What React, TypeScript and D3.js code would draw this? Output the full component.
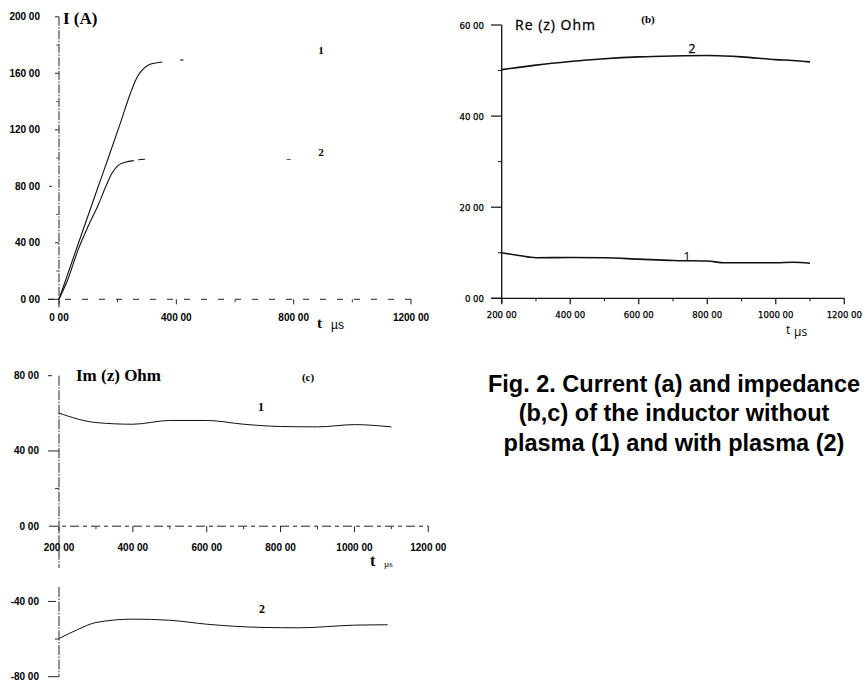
import React from 'react';
import * as d3 from 'd3';

// Panel (a): current vs time
const tA1 = [0, 60, 134, 168, 208, 242, 262, 280, 305, 330, 352];
const iA1 = [0, 36, 80, 100, 124, 145, 155.5, 161.5, 165.9, 167.3, 168];
const tA1Tail = [413, 424];
const iA1Tail = [169.4, 169.4];
const tA2 = [0, 30, 65, 100, 134, 160, 180, 200, 225, 255];
const iA2 = [0, 14, 35, 52, 67, 80, 89, 94.5, 97, 98.2];
const tA2Tail = [270, 293];
const iA2Tail = [98.8, 99.2];
const tA2Far = [776, 790];
const iA2Far = [99, 99];
const xTicksA = [0, 400, 800, 1200];
const xMinorA = [200, 600, 1000];
const yTicksA = [0, 40, 80, 120, 160, 200];
const yMinorA = [20, 60, 100, 140, 180];

// Panel (b): Re(z)
const tB = [200, 250, 300, 400, 500, 600, 700, 800, 850, 900, 1000, 1050, 1100];
const reB2 = [50.2, 50.7, 51.2, 52.0, 52.6, 53.0, 53.2, 53.3, 53.2, 53.0, 52.4, 52.2, 51.9];
const reB1 = [10.0, 9.4, 8.9, 8.95, 8.9, 8.6, 8.3, 8.2, 7.8, 7.8, 7.8, 7.9, 7.7];
const xTicksB = [200, 400, 600, 800, 1000, 1200];
const xMinorB = [300, 500, 700, 900, 1100];
const yTicksB = [0, 20, 40, 60];
const yMinorB = [10, 30, 50];

// Panel (c): Im(z)
const tC1 = [200, 300, 400, 500, 600, 700, 800, 900, 1000, 1100];
const imC1 = [60.1, 55.1, 54.2, 56.2, 56.2, 54.2, 53.0, 52.8, 54.0, 52.8];
const tC2 = [200, 250, 300, 400, 500, 600, 750, 850, 1000, 1090];
const imC2 = [-59.7, -55, -51.2, -49.4, -50, -52.1, -53.8, -54, -52.6, -52.4];
const xTicksC = [200, 400, 600, 800, 1000, 1200];
const xMinorC = [300, 500, 700, 900, 1100];
const yTicksC = [-80, -40, 0, 40, 80];
const yMinorC = [-60, 20];

const captionLines = [
  'Fig. 2. Current (a) and impedance',
  '(b,c) of the inductor without',
  'plasma (1) and with plasma (2)',
];

const fmt = (v: number) => `${v} 00`;

const xA = d3.scaleLinear().domain([0, 1200]).range([59, 411]);
const yA = d3.scaleLinear().domain([0, 200]).range([299.3, 16.8]);
const xB = d3.scaleLinear().domain([200, 1200]).range([501.7, 844.3]);
const yB = d3.scaleLinear().domain([0, 60]).range([298.3, 25]);
const xC = d3.scaleLinear().domain([200, 1200]).range([59, 428.3]);
const yC = d3.scaleLinear().domain([-80, 80]).range([676.7, 375.7]);

function path(xs: number[], ys: number[], sx: any, sy: any) {
  const pts = xs.map((x, i) => [x, ys[i]] as [number, number]);
  return d3
    .line<[number, number]>()
    .x((d) => sx(d[0]))
    .y((d) => sy(d[1]))
    .curve(d3.curveMonotoneX)(pts) as string;
}

const boldSans = { fontFamily: 'Liberation Sans, Arial, sans-serif', fontWeight: 700 as const };
const boldSerif = { fontFamily: 'Liberation Serif, Times New Roman, serif', fontWeight: 700 as const };
const humanist = 'DejaVu Sans Condensed, DejaVu Sans, sans-serif';

export default function App() {
  return (
    <svg
      width={864}
      height={681}
      viewBox="0 0 864 681"
      style={{ position: 'absolute', left: 0, top: 0, background: '#fff' }}
    >
      <rect x={0} y={0} width={864} height={681} fill="#fff" />

      {/* ---------- Panel (a) ---------- */}
      <g>
        <line x1={xA(0)} x2={xA(0)} y1={yA(200)} y2={yA(0) + 8} stroke="#222" strokeWidth={1} strokeDasharray="9,1.5,1.5,1.5" />
        <line x1={48} x2={xA(1200)} y1={yA(0)} y2={yA(0)} stroke="#222" strokeWidth={1} strokeDasharray="6,11" />
        {yTicksA.map((v) => (
          <g key={'ya' + v}>
            <line x1={v === 0 ? 48 : v === 80 ? 49 : 55} x2={v === 80 ? 52 : 59} y1={yA(v)} y2={yA(v)} stroke="#222" strokeWidth={1} />
            <text x={40} y={yA(v) + 3.5} textAnchor="end" fontSize={10} {...boldSans}>{fmt(v)}</text>
          </g>
        ))}
        {yMinorA.map((v) => (
          <line key={'yam' + v} x1={56} x2={59} y1={yA(v)} y2={yA(v)} stroke="#444" strokeWidth={0.8} />
        ))}
        {xTicksA.map((v) => (
          <g key={'xa' + v}>
            <line x1={xA(v)} x2={xA(v)} y1={yA(0)} y2={yA(0) + 5} stroke="#222" strokeWidth={1} />
            <text x={xA(v)} y={321} textAnchor="middle" fontSize={10} {...boldSans}>{fmt(v)}</text>
          </g>
        ))}
        {xMinorA.map((v) => (
          <line key={'xam' + v} x1={xA(v)} x2={xA(v)} y1={yA(0)} y2={yA(0) + 3} stroke="#333" strokeWidth={1} />
        ))}
        <path d={path(tA1, iA1, xA, yA)} fill="none" stroke="#111" strokeWidth={1.1} />
        <path d={path(tA1Tail, iA1Tail, xA, yA)} fill="none" stroke="#111" strokeWidth={1.1} />
        <path d={path(tA2, iA2, xA, yA)} fill="none" stroke="#111" strokeWidth={1.1} />
        <path d={path(tA2Tail, iA2Tail, xA, yA)} fill="none" stroke="#111" strokeWidth={1.1} />
        <path d={path(tA2Far, iA2Far, xA, yA)} fill="none" stroke="#555" strokeWidth={1} />
        <text x={63} y={24} fontSize={17} {...boldSerif}>I (A)</text>
        <text x={321} y={54} textAnchor="middle" fontSize={11} {...boldSerif}>1</text>
        <text x={321} y={156} textAnchor="middle" fontSize={11} {...boldSerif}>2</text>
        <text x={317} y={328} fontSize={15} {...boldSerif}>t</text>
        <text x={331} y={329} fontSize={12} fontFamily="Liberation Sans, Arial, sans-serif">µs</text>
      </g>

      {/* ---------- Panel (b) ---------- */}
      <g>
        <line x1={xB(200)} x2={xB(200)} y1={yB(60)} y2={yB(0) + 5} stroke="#111" strokeWidth={1.3} />
        <line x1={491} x2={xB(1200)} y1={yB(0)} y2={yB(0)} stroke="#111" strokeWidth={1.3} />
        {yTicksB.map((v) => (
          <g key={'yb' + v}>
            <line x1={491} x2={xB(200)} y1={yB(v)} y2={yB(v)} stroke="#111" strokeWidth={1.2} />
            <text x={484} y={yB(v) + 3.5} textAnchor="end" fontSize={9.5} fontFamily={humanist} stroke="#000" strokeWidth={0.25}>{fmt(v)}</text>
          </g>
        ))}
        {yMinorB.map((v) => (
          <line key={'ybm' + v} x1={498} x2={xB(200)} y1={yB(v)} y2={yB(v)} stroke="#111" strokeWidth={1} />
        ))}
        {xTicksB.map((v) => (
          <g key={'xb' + v}>
            <line x1={xB(v)} x2={xB(v)} y1={yB(0)} y2={yB(0) + 6} stroke="#111" strokeWidth={1.2} />
            <text x={xB(v)} y={318} textAnchor="middle" fontSize={9.5} fontFamily={humanist} stroke="#000" strokeWidth={0.25}>{fmt(v)}</text>
          </g>
        ))}
        {xMinorB.map((v) => (
          <line key={'xbm' + v} x1={xB(v)} x2={xB(v)} y1={yB(0)} y2={yB(0) + 3} stroke="#111" strokeWidth={1} />
        ))}
        <path d={path(tB, reB2, xB, yB)} fill="none" stroke="#111" strokeWidth={1.6} />
        <path d={path(tB, reB1, xB, yB)} fill="none" stroke="#111" strokeWidth={1.6} />
        <text x={515} y={30} fontSize={14} letterSpacing={1} fontFamily="Open Sans, DejaVu Sans, sans-serif" stroke="#000" strokeWidth={0.3}>Re (z) Ohm</text>
        <text x={648} y={23} textAnchor="middle" fontSize={11} {...boldSerif}>(b)</text>
        <text x={692} y={53} textAnchor="middle" fontSize={12} fontFamily="Open Sans, DejaVu Sans, sans-serif" stroke="#000" strokeWidth={0.3}>2</text>
        <text x={687} y={261} textAnchor="middle" fontSize={12} fontFamily="Open Sans, DejaVu Sans, sans-serif">1</text>
        <text x={786} y={334} fontSize={12} fontFamily="Open Sans, DejaVu Sans, sans-serif">t</text>
        <text x={794} y={336} fontSize={12} fontFamily="Open Sans, DejaVu Sans, sans-serif">µs</text>
      </g>

      {/* ---------- Panel (c) ---------- */}
      <g>
        <line x1={xC(200)} x2={xC(200)} y1={yC(80)} y2={568} stroke="#222" strokeWidth={1} strokeDasharray="10,1.5,1.5,1.5" />
        <line x1={xC(200)} x2={xC(200)} y1={587} y2={yC(-80)} stroke="#222" strokeWidth={1} strokeDasharray="10,1.5,1.5,1.5" />
        <line x1={49} x2={xC(1200)} y1={yC(0)} y2={yC(0)} stroke="#222" strokeWidth={1} strokeDasharray="9,4,4,4" />
        {yTicksC.map((v) => (
          <g key={'yc' + v}>
            {v !== 0 && (
              <line x1={48} x2={v === 80 ? 52 : v === -40 ? 56 : 59} y1={yC(v)} y2={yC(v)} stroke="#222" strokeWidth={1} />
            )}
            <text x={39} y={yC(v) + 3.5} textAnchor="end" fontSize={10} {...boldSans}>{fmt(v)}</text>
          </g>
        ))}
        {yMinorC.map((v) => (
          <line key={'ycm' + v} x1={55} x2={59} y1={yC(v)} y2={yC(v)} stroke="#333" strokeWidth={1} />
        ))}
        {xTicksC.map((v) => (
          <g key={'xc' + v}>
            <line x1={xC(v)} x2={xC(v)} y1={yC(0)} y2={yC(0) + 6} stroke="#222" strokeWidth={1} />
            <text x={xC(v)} y={550.5} textAnchor="middle" fontSize={10} {...boldSans}>{fmt(v)}</text>
          </g>
        ))}
        {xMinorC.map((v) => (
          <line key={'xcm' + v} x1={xC(v)} x2={xC(v)} y1={yC(0)} y2={yC(0) + 3} stroke="#333" strokeWidth={1} />
        ))}
        <path d={path(tC1, imC1, xC, yC)} fill="none" stroke="#111" strokeWidth={1} />
        <path d={path(tC2, imC2, xC, yC)} fill="none" stroke="#111" strokeWidth={1} />
        <text x={76} y={381} fontSize={17} {...boldSerif}>Im (z) Ohm</text>
        <text x={308} y={381} textAnchor="middle" fontSize={11} {...boldSerif}>(c)</text>
        <text x={261} y={411} textAnchor="middle" fontSize={12} {...boldSerif}>1</text>
        <text x={262} y={613} textAnchor="middle" fontSize={12} {...boldSerif}>2</text>
        <text x={370} y={566} fontSize={16} {...boldSerif}>t</text>
        <text x={384} y={567} fontSize={9} fontFamily="Liberation Serif, serif">µs</text>
      </g>

      {/* ---------- Caption ---------- */}
      {captionLines.map((line, i) => (
        <text key={'cap' + i} x={674} y={391.5 + i * 29.5} textAnchor="middle" fontSize={23.5} {...boldSans}>
          {line}
        </text>
      ))}
    </svg>
  );
}
